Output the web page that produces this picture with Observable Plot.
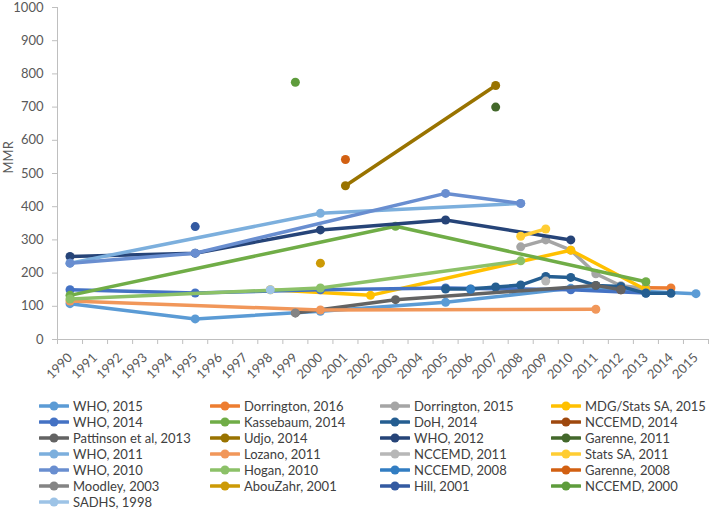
<!DOCTYPE html>
<html><head><meta charset="utf-8">
<script src="https://cdn.jsdelivr.net/npm/d3@7"></script>
<script src="https://cdn.jsdelivr.net/npm/@observablehq/plot@0.6"></script>
<style>
body{margin:0;background:#fff;font-family:Lato,sans-serif;}
#chart svg{display:block;}
#legend{display:grid;grid-template-columns:171px 170px 171px 158px;margin-left:39px;margin-top:8px;}
.item{display:flex;align-items:center;height:16px;font-size:13px;line-height:14px;color:#404040;white-space:nowrap;}
.item svg{margin-right:4px;flex:none;}
</style></head><body>
<div id="chart"></div><div id="legend"></div>
<script>
const years = d3.range(1990, 2016);
const yTicks = d3.range(0, 1001, 100);

const who2015 = [[1990,108],[1995,62],[2000,85],[2005,112],[2010,154],[2015,138]];
const dorrington2016 = [[2012,157],[2013,156],[2014,155]];
const dorrington2015 = [[2008,279],[2009,300],[2010,269],[2011,198],[2012,162],[2013,154]];
const mdgStatsSA2015 = [[1998,150],[2002,133],[2010,269],[2013,150]];
const who2014 = [[1990,150],[1995,140],[2000,150],[2005,155],[2010,150],[2013,140]];
const kassebaum2014 = [[1990,133],[2003,341],[2013,174]];
const doh2014 = [[2005,152],[2006,152],[2007,158],[2008,164],[2009,190],[2010,187],[2011,163],[2012,160],[2013,139],[2014,139]];
const nccemd2014 = [[2012,150]];
const pattinson2013 = [[1999,80],[2003,120],[2011,163],[2012,150]];
const udjo2014 = [[2001,463],[2007,765]];
const who2012 = [[1990,250],[1995,260],[2000,330],[2005,360],[2010,300]];
const garenne2011 = [[2007,700]];
const who2011 = [[1990,230],[2000,380],[2008,410]];
const lozano2011 = [[1990,116],[2000,89],[2011,91]];
const nccemd2011 = [[2009,176]];
const statsSA2011 = [[2008,311],[2009,333]];
const who2010 = [[1990,230],[1995,260],[2005,440],[2008,410]];
const hogan2010 = [[1990,122],[2000,155],[2008,237]];
const nccemd2008 = [[2006,151]];
const garenne2008 = [[2001,542]];
const moodley2003 = [[1999,80]];
const abouZahr2001 = [[2000,230]];
const hill2001 = [[1995,340]];
const nccemd2000 = [[1999,775]];
const sadhs1998 = [[1998,150]];

const seriesNames = ["WHO, 2015","Dorrington, 2016","Dorrington, 2015","MDG/Stats SA, 2015",
  "WHO, 2014","Kassebaum, 2014","DoH, 2014","NCCEMD, 2014",
  "Pattinson et al, 2013","Udjo, 2014","WHO, 2012","Garenne, 2011",
  "WHO, 2011","Lozano, 2011","NCCEMD, 2011","Stats SA, 2011",
  "WHO, 2010","Hogan, 2010","NCCEMD, 2008","Garenne, 2008",
  "Moodley, 2003","AbouZahr, 2001","Hill, 2001","NCCEMD, 2000","SADHS, 1998"];
const seriesData = [who2015,dorrington2016,dorrington2015,mdgStatsSA2015,
  who2014,kassebaum2014,doh2014,nccemd2014,
  pattinson2013,udjo2014,who2012,garenne2011,
  who2011,lozano2011,nccemd2011,statsSA2011,
  who2010,hogan2010,nccemd2008,garenne2008,
  moodley2003,abouZahr2001,hill2001,nccemd2000,sadhs1998];
const seriesColors = ["#5B9BD5","#ED7D31","#A5A5A5","#FFC000",
  "#4472C4","#70AD47","#255E91","#9E480E",
  "#636363","#997300","#264478","#43682B",
  "#7CAFDD","#F1975A","#B7B7B7","#FFCD33",
  "#698ED0","#8CC168","#327DC2","#D26012",
  "#848484","#CC9A06","#335AA1","#5E9C3C","#9DC3E6"];

const boundaries = d3.range(1989.5, 2016, 1);
const axisGray = "#BFBFBF", textGray = "#595959";

const seriesMarks = seriesData.flatMap((data, i) => [
  Plot.line(data, {x: d => d[0], y: d => d[1], stroke: seriesColors[i], strokeWidth: 3.5, strokeLinecap: "round", strokeLinejoin: "round"}),
  Plot.dot(data, {x: d => d[0], y: d => d[1], r: 4.5, fill: seriesColors[i], stroke: "none"})
]);

const chart = Plot.plot({
  width: 709, height: 390,
  marginLeft: 57, marginRight: 1, marginTop: 7, marginBottom: 51,
  style: {fontFamily: "Lato, sans-serif", fontSize: "13px", background: "#fff", overflow: "visible"},
  x: {domain: [1989.5, 2015.5], axis: null},
  y: {domain: [0, 1000], axis: null},
  marks: [
    Plot.axisY(yTicks, {tickSize: 5, tickPadding: 9, stroke: axisGray, fill: textGray, fontSize: 13, tickFormat: d => String(d), label: null}),
    Plot.axisX(boundaries, {tickSize: 5, tickFormat: () => "", stroke: axisGray, label: null}),
    Plot.axisX(years, {tickSize: 0, tickPadding: 16, tickRotate: -45, fill: textGray, fontSize: 13, tickFormat: d => String(d), label: null}),
    Plot.ruleY([0], {stroke: axisGray}),
    Plot.ruleX([1989.5], {stroke: axisGray}),
    Plot.text(["MMR"], {frameAnchor: "left", dx: -49, rotate: -90, fill: textGray, fontSize: 13}),
    ...seriesMarks
  ]
});
document.getElementById("chart").appendChild(chart);

const legend = document.getElementById("legend");
seriesNames.forEach((name, i) => {
  const item = document.createElement("div");
  item.className = "item";
  const c = seriesColors[i];
  item.innerHTML = `<svg width="30" height="16"><line x1="1" y1="8" x2="29" y2="8" stroke="${c}" stroke-width="3.5" stroke-linecap="round"/><circle cx="15" cy="8" r="4.5" fill="${c}"/></svg><span>${name}</span>`;
  legend.appendChild(item);
});
</script>
</body></html>
